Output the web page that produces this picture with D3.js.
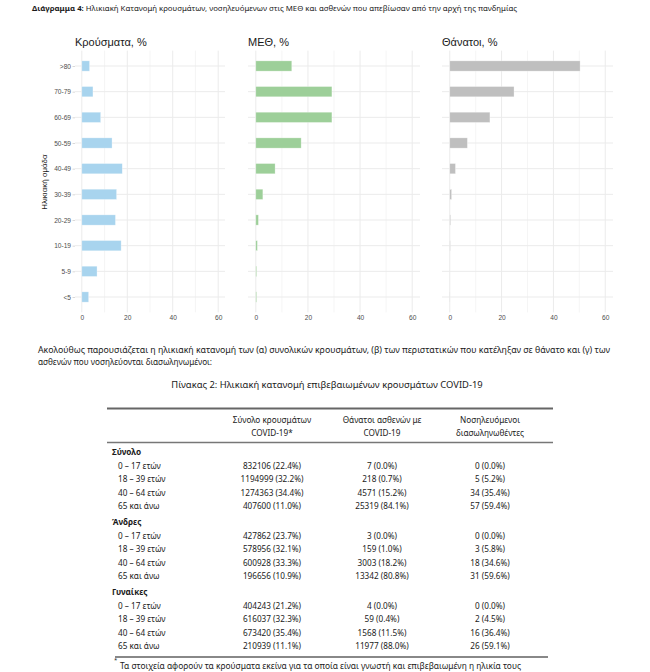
<!DOCTYPE html>
<html><head><meta charset="utf-8">
<script src="https://cdn.jsdelivr.net/npm/d3@7"></script>
<style>
html,body{margin:0;padding:0;background:#fff;}
svg{display:block;}
</style></head>
<body>
<svg id="c" width="650" height="672"></svg>
<script>
// ---------- Chart data ----------
const ages = [">80","70-79","60-69","50-59","40-49","30-39","20-29","10-19","5-9","<5"];
const casesPct  = [3.4, 4.9, 8.3, 13.3, 17.8, 15.3, 14.8, 17.3, 6.7, 3.0];
const icuPct    = [13.8, 29.2, 29.2, 17.4, 7.4, 2.7, 1.0, 0.6, 0.3, 0.3];
const deathsPct = [50.3, 24.8, 15.5, 6.8, 2.2, 0.7, 0.3, 0.2, 0.0, 0.1];
const panelTitles = ["Κρούσματα, %", "ΜΕΘ, %", "Θάνατοι, %"];
const xTicks = [0, 20, 40, 60];
const xMinor = [10, 30, 50];

// ---------- Table data ----------
const groups = ["Σύνολο", "Άνδρες", "Γυναίκες"];
const ageGroups = ["0 – 17 ετών", "18 – 39 ετών", "40 – 64 ετών", "65 και άνω"];
const colHeaders = [["Σύνολο κρουσμάτων", "COVID-19*"], ["Θάνατοι ασθενών με", "COVID-19"], ["Νοσηλευόμενοι", "διασωληνωθέντες"]];
const casesN  = [832106, 1194999, 1274363, 407600, 427862, 578956, 600928, 196656, 404243, 616037, 673420, 210939];
const casesP  = [22.4, 32.2, 34.4, 11.0, 23.7, 32.1, 33.3, 10.9, 21.2, 32.3, 35.4, 11.1];
const deathsN = [7, 218, 4571, 25319, 3, 159, 3003, 13342, 4, 59, 1568, 11977];
const deathsP = [0.0, 0.7, 15.2, 84.1, 0.0, 1.0, 18.2, 80.8, 0.0, 0.4, 11.5, 88.0];
const intubN  = [0, 5, 34, 57, 0, 3, 18, 31, 0, 2, 16, 26];
const intubP  = [0.0, 5.2, 35.4, 59.4, 0.0, 5.8, 34.6, 59.6, 0.0, 4.5, 36.4, 59.1];

const svg = d3.select("#c");
const docFont = "'Noto Sans', sans-serif";
const chartFont = "'Liberation Sans', Arial, sans-serif";
const ink = "#1a1a1a";

// Heading
const head = svg.append("text").attr("x", 32).attr("y", 10.5)
  .attr("font-family", docFont).attr("font-size", 7.6).attr("fill", ink)
  .attr("textLength", 485).attr("lengthAdjust", "spacingAndGlyphs");
head.append("tspan").attr("font-weight", "bold").text("Διάγραμμα 4:");
head.append("tspan").text(" Ηλικιακή Κατανομή κρουσμάτων, νοσηλευόμενων στις ΜΕΘ και ασθενών που απεβίωσαν από την αρχή της πανδημίας");

// Panels
const panels = [
  {vals: casesPct, color: "#a8d4ee", r: [75, 225], title: panelTitles[0]},
  {vals: icuPct, color: "#9dcf99", r: [248, 420], title: panelTitles[1]},
  {vals: deathsPct, color: "#bfbfbf", r: [442, 613], title: panelTitles[2]}
];
const y = d3.scalePoint().domain(ages).range([50.6, 312.4]).padding(0.6);
const barH = y.step() * 0.4;

panels.forEach((p, pi) => {
  const x = d3.scaleLinear().domain([-3, 63]).range(p.r);
  const g = svg.append("g");
  g.selectAll(".vmin").data(xMinor).join("line")
    .attr("x1", d => x(d)).attr("x2", d => x(d)).attr("y1", 50.6).attr("y2", 312.4)
    .attr("stroke", "#f0f0f0").attr("stroke-width", 0.7);
  g.selectAll(".vmaj").data(xTicks).join("line")
    .attr("x1", d => x(d)).attr("x2", d => x(d)).attr("y1", 50.6).attr("y2", 312.4)
    .attr("stroke", "#ebebeb").attr("stroke-width", 1);
  g.selectAll(".hmaj").data(ages).join("line")
    .attr("x1", p.r[0]).attr("x2", p.r[1]).attr("y1", d => y(d)).attr("y2", d => y(d))
    .attr("stroke", "#ebebeb").attr("stroke-width", 1);
  g.selectAll("rect").data(ages).join("rect")
    .attr("x", x(0)).attr("y", d => y(d) - barH / 2)
    .attr("width", (d, i) => Math.max(0, x(p.vals[i]) - x(0))).attr("height", barH)
    .attr("fill", p.color).attr("stroke", "#ffffff").attr("stroke-opacity", 0.5).attr("stroke-width", 0.6);
  const xa = d3.axisBottom(x).tickValues(xTicks).tickSize(0).tickPadding(0);
  const ax = svg.append("g").attr("transform", "translate(0,315)").call(xa);
  ax.select(".domain").remove();
  ax.selectAll("text").attr("font-family", chartFont).attr("font-size", 6.6).attr("fill", "#4d4d4d").attr("dy", "0.71em");
  svg.append("text").attr("x", p.r[0]).attr("y", 46).attr("font-family", chartFont)
    .attr("font-size", 11).attr("fill", ink).text(p.title);
  if (pi === 0) {
    const ya = d3.axisLeft(y).tickSize(2.5).tickPadding(1.5);
    const ay = svg.append("g").attr("transform", `translate(${p.r[0]},0)`).call(ya);
    ay.select(".domain").remove();
    ay.selectAll("line").attr("stroke", "#d9d9d9");
    ay.selectAll("text").attr("font-family", chartFont).attr("font-size", 6.6).attr("fill", "#4d4d4d");
    svg.append("text").attr("transform", "translate(47,182) rotate(-90)").attr("text-anchor", "middle")
      .attr("font-family", chartFont).attr("font-size", 8).attr("fill", ink).text("Ηλικιακή ομάδα");
  }
});

// Paragraph
svg.append("text").attr("x", 38).attr("y", 353).attr("font-family", docFont).attr("font-size", 8.2).attr("fill", ink)
  .attr("textLength", 572).attr("lengthAdjust", "spacingAndGlyphs")
  .text("Ακολούθως παρουσιάζεται η ηλικιακή κατανομή των (α) συνολικών κρουσμάτων, (β) των περιστατικών που κατέληξαν σε θάνατο και (γ) των");
svg.append("text").attr("x", 38).attr("y", 365).attr("font-family", docFont).attr("font-size", 8.2).attr("fill", ink)
  .text("ασθενών που νοσηλεύονται διασωληνωμένοι:");

// Table title
svg.append("text").attr("x", 327).attr("y", 387.5).attr("text-anchor", "middle").attr("font-family", docFont)
  .attr("font-size", 9.4).attr("fill", ink).text("Πίνακας 2: Ηλικιακή κατανομή επιβεβαιωμένων κρουσμάτων COVID-19");

// Table
const colX = [272, 382, 490];
const tL = 107, tR = 553;
svg.append("line").attr("x1", tL).attr("x2", tR).attr("y1", 408.5).attr("y2", 408.5).attr("stroke", "#666").attr("stroke-width", 2);
svg.append("line").attr("x1", tL).attr("x2", tR).attr("y1", 442.5).attr("y2", 442.5).attr("stroke", "#777").attr("stroke-width", 1.4);
svg.append("line").attr("x1", 115).attr("x2", 548).attr("y1", 657).attr("y2", 657).attr("stroke", "#888").attr("stroke-width", 2);

colHeaders.forEach((h, ci) => {
  h.forEach((line, li) => {
    svg.append("text").attr("x", colX[ci]).attr("y", 423 + li * 13).attr("text-anchor", "middle")
      .attr("font-family", docFont).attr("font-size", 8.2).attr("fill", ink).text(line);
  });
});

const fmt = d3.format(".1f");
const cols = [[casesN, casesP], [deathsN, deathsP], [intubN, intubP]];
groups.forEach((gname, gi) => {
  const y0 = 452 + gi * 70;
  svg.append("text").attr("x", 112).attr("y", y0 + 3).attr("font-family", docFont).attr("font-weight", "bold")
    .attr("font-size", 8.2).attr("fill", ink).text(gname);
  ageGroups.forEach((a, ai) => {
    const yy = y0 + 13.5 * (ai + 1) + 3;
    const idx = gi * 4 + ai;
    svg.append("text").attr("x", 118).attr("y", yy).attr("font-family", docFont).attr("font-size", 8.2).attr("fill", ink).text(a);
    cols.forEach((c, ci) => {
      svg.append("text").attr("x", colX[ci]).attr("y", yy).attr("text-anchor", "middle").attr("font-family", docFont)
        .attr("font-size", 8.2).attr("fill", ink).text(`${c[0][idx]} (${fmt(c[1][idx])}%)`);
    });
  });
});

// Footnote
svg.append("text").attr("x", 114).attr("y", 662).attr("font-family", docFont).attr("font-size", 6).attr("fill", ink).text("*");
svg.append("text").attr("x", 120).attr("y", 668.5).attr("font-family", docFont).attr("font-size", 8.4).attr("fill", ink)
  .text("Τα στοιχεία αφορούν τα κρούσματα εκείνα για τα οποία είναι γνωστή και επιβεβαιωμένη η ηλικία τους");
</script>
</body></html>
